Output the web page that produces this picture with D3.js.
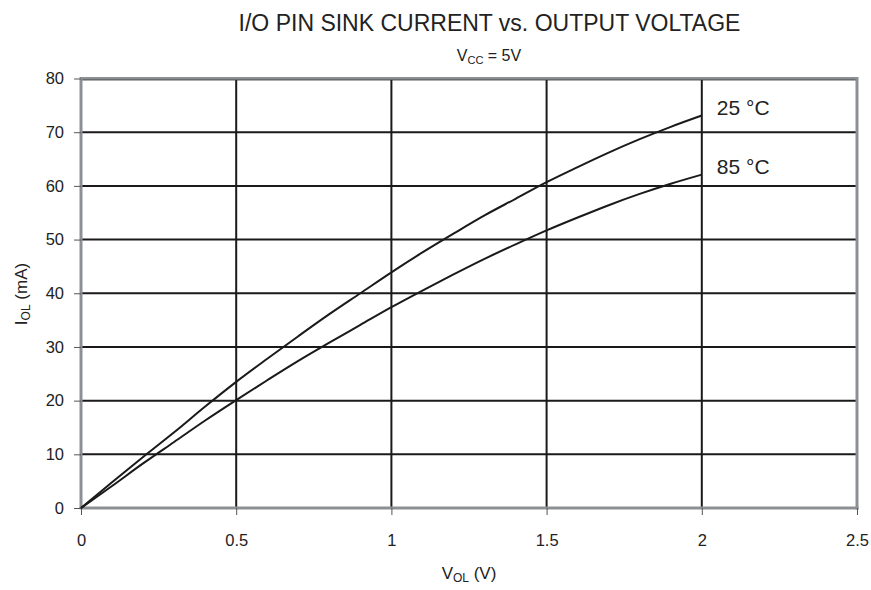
<!DOCTYPE html>
<html><head><meta charset="utf-8">
<script src="https://cdn.jsdelivr.net/npm/d3@7"></script>
<style>body{margin:0;background:#fff}svg{display:block}text{font-family:"Liberation Sans",Arial,sans-serif;fill:#222}</style>
</head><body><svg id="c" width="871" height="590"></svg>
<script>
const voltages = [0,0.1,0.2,0.3,0.4,0.5,0.6,0.7,0.8,0.9,1.0,1.1,1.2,1.3,1.4,1.5,1.6,1.7,1.8,1.9,2.0];
const current25 = [0,4.8,9.5,14.1,18.9,23.5,27.8,32.0,36.1,40.0,43.9,47.6,51.1,54.5,57.6,60.7,63.5,66.2,68.7,71.0,73.1];
const current85 = [0,4.1,8.3,12.3,16.3,20.1,23.8,27.4,30.8,34.1,37.4,40.5,43.5,46.4,49.1,51.7,54.1,56.4,58.5,60.4,62.1];
const seriesNames = ["25 °C","85 °C"];
const xTicks = [0,0.5,1,1.5,2,2.5];
const yTicks = [0,10,20,30,40,50,60,70,80];

const svg = d3.select("#c");
const L=81, R=857, T=78.5, B=508;
const x = d3.scaleLinear().domain([0,2.5]).range([L,R]);
const y = d3.scaleLinear().domain([0,80]).range([B,T]);

// gridlines
svg.append("g").selectAll("line").data(yTicks.filter(d=>d>0&&d<80)).join("line")
  .attr("x1",L).attr("x2",R).attr("y1",d=>y(d)).attr("y2",d=>y(d))
  .attr("stroke","#1a1a1a").attr("stroke-width",2);
svg.append("g").selectAll("line").data(xTicks.filter(d=>d>0&&d<2.5)).join("line")
  .attr("y1",T).attr("y2",B).attr("x1",d=>x(d)).attr("x2",d=>x(d))
  .attr("stroke","#1a1a1a").attr("stroke-width",2);

// frame
const frame = "#8c8f93";
svg.append("line").attr("x1",L).attr("x2",R).attr("y1",T).attr("y2",T).attr("stroke",frame).attr("stroke-width",3);
svg.append("line").attr("x1",L).attr("x2",R).attr("y1",T+1.5).attr("y2",T+1.5).attr("stroke","#333").attr("stroke-width",0.8);
svg.append("line").attr("x1",R).attr("x2",R).attr("y1",T-1.5).attr("y2",B+1.5).attr("stroke",frame).attr("stroke-width",3);

// axes
const xAxis = svg.append("g").attr("transform",`translate(0,${B})`)
  .call(d3.axisBottom(x).tickValues(xTicks).tickFormat(d=>String(d)).tickSize(7).tickPadding(19));
const yAxis = svg.append("g").attr("transform",`translate(${L},0)`)
  .call(d3.axisLeft(y).tickValues(yTicks).tickSize(7).tickPadding(10));
[xAxis,yAxis].forEach(a=>{
  a.select(".domain").attr("stroke",frame).attr("stroke-width",3);
  a.selectAll(".tick line").attr("stroke","#555").attr("stroke-width",1);
  a.selectAll("text").attr("font-size",16.5).attr("fill","#222").style("font-family",'"Liberation Sans",Arial,sans-serif');
});
xAxis.select(".domain").attr("d",`M${L-1.5},0H${R+1.5}`);
yAxis.select(".domain").attr("d",`M0,${T-1.5}V${B}`);

// curves
const line = d3.line().x(d=>x(d[0])).y(d=>y(d[1])).curve(d3.curveMonotoneX);
const series = [current25,current85];
series.forEach((vals,i)=>{
  svg.append("path").datum(voltages.map((v,j)=>[v,vals[j]]))
    .attr("d",line).attr("fill","none").attr("stroke","#1a1a1a").attr("stroke-width",2);
  svg.append("text").attr("x",x(voltages[voltages.length-1])+15).attr("y",y(vals[vals.length-1])-1)
    .attr("font-size",21).text(seriesNames[i]);
});

// titles
svg.append("text").attr("x",489.5).attr("y",30.5).attr("text-anchor","middle").attr("font-size",23)
  .text("I/O PIN SINK CURRENT vs. OUTPUT VOLTAGE");
const sub = svg.append("text").attr("x",489).attr("y",60.5).attr("text-anchor","middle").attr("font-size",16);
sub.append("tspan").text("V");
sub.append("tspan").attr("font-size",11).attr("dy",3).text("CC");
sub.append("tspan").attr("dy",-3).text(" = 5V");

const xl = svg.append("text").attr("x",469).attr("y",579).attr("text-anchor","middle").attr("font-size",17);
xl.append("tspan").text("V");
xl.append("tspan").attr("font-size",12).attr("dy",3).text("OL");
xl.append("tspan").attr("dy",-3).text(" (V)");

const yl = svg.append("text").attr("transform","translate(27,294) rotate(-90)").attr("text-anchor","middle").attr("font-size",17);
yl.append("tspan").text("I");
yl.append("tspan").attr("font-size",12).attr("dy",3).text("OL");
yl.append("tspan").attr("dy",-3).text(" (mA)");
</script></body></html>
